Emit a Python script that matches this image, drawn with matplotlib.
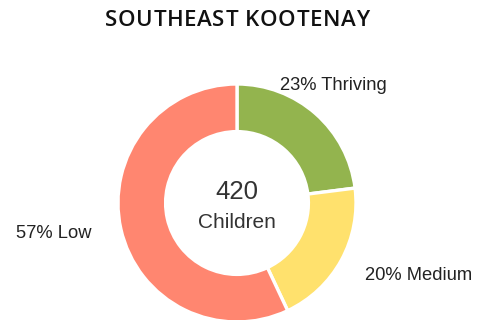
import matplotlib.pyplot as plt

title = 'SOUTHEAST KOOTENAY'
categories = ['Thriving', 'Medium', 'Low']
shares = [23, 20, 57]
total_children = 420
colors = ['#93b44e', '#ffe16d', '#ff8670']

# where each outside label sits, in pixels (x right, y down)
label_pos = [(333, 85), (419, 276), (54, 234)]


def spaced_title(fig, ax, text, x_mid, y, tracking, **kw):
    # draw the title one letter at a time so it gets a little extra tracking
    renderer = fig.canvas.get_renderer()
    widths = []
    for ch in text:
        t = ax.text(0, 0, ch, **kw)
        bb = t.get_window_extent(renderer)
        t.remove()
        widths.append(bb.width)
    total = sum(widths) + tracking * (len(text) - 1)
    x = x_mid - total / 2
    for ch, w in zip(text, widths):
        ax.text(x, y, ch, ha='left', va='center', **kw)
        x += w + tracking


def main():
    fig = plt.figure(figsize=(4.82, 3.2), dpi=100, facecolor='white')
    ax = fig.add_axes([0, 0, 1, 1])

    W, H = 482, 320
    cx, cy, r = 237, 203, 119

    ax.pie(shares, colors=colors, startangle=90, counterclock=False,
           center=(cx, H - cy), radius=r,
           wedgeprops=dict(width=r * 0.40, edgecolor='white', linewidth=2.4))
    ax.set_xlim(0, W)
    ax.set_ylim(0, H)
    ax.set_aspect('equal')
    ax.axis('off')

    lab_font = dict(family='Liberation Sans', fontsize=13.2, color='#222222')
    for name, val, (x, y) in zip(categories, shares, label_pos):
        ax.text(x, H - y, '{}% {}'.format(val, name), ha='center', va='center', **lab_font)

    ax.text(cx, H - 192, str(total_children), ha='center', va='center',
            family='Liberation Sans', fontsize=18.5, color='#333333')
    ax.text(cx, H - 222, 'Children', ha='center', va='center',
            family='Liberation Sans', fontsize=15, color='#333333')

    spaced_title(fig, ax, title, cx, H - 20, 0.6,
                 family='Open Sans', fontweight='semibold', fontsize=16, color='#111111')

    fig.savefig('out.png', dpi=100, facecolor='white')


if __name__ == '__main__':
    main()
